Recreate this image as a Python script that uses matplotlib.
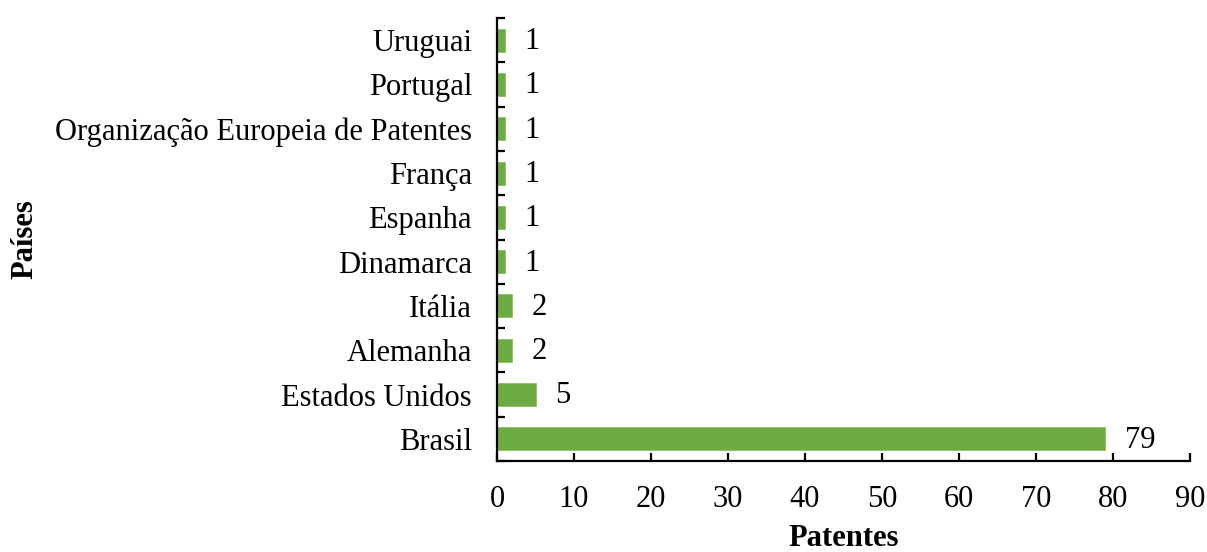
import matplotlib.pyplot as plt
import numpy as np

countries = ["Brasil", "Estados Unidos", "Alemanha", "Itália", "Dinamarca",
             "Espanha", "França", "Organização Europeia de Patentes",
             "Portugal", "Uruguai"]
patents = [79, 5, 2, 2, 1, 1, 1, 1, 1, 1]

plt.rcParams['font.family'] = ['Liberation Serif', 'DejaVu Serif']
FS = 22

fig = plt.figure(figsize=(12.07, 5.52), dpi=100)
ax = fig.add_axes([497/1207, 1-461/552, (1190-497)/1207, (461-18)/552])

y = np.arange(len(countries))
ax.barh(y, patents, height=0.52, color='#6cab42', edgecolor='#8cc063', linewidth=0.6)
for yi, v in zip(y, patents):
    ax.annotate(str(v), xy=(v, yi), xytext=(14, -1), textcoords='offset points',
                va='center', ha='left', fontsize=FS)

ax.set_xlim(0, 90)
ax.set_ylim(-0.5, len(countries) - 0.5)
ax.set_xticks(np.arange(0, 91, 10))
ax.set_yticks(y)
ax.set_yticklabels(countries)
ax.set_yticks(np.arange(-0.5, len(countries), 1), minor=True)

for s in ['top', 'right']:
    ax.spines[s].set_visible(False)
for s in ['left', 'bottom']:
    ax.spines[s].set_linewidth(1.6)

ax.tick_params(axis='x', direction='in', length=6, width=1.6, labelsize=FS, pad=17)
ax.tick_params(axis='y', which='major', length=0, labelsize=FS, pad=18)
ax.tick_params(axis='y', which='minor', direction='in', length=6, width=1.6)

ax.set_xlabel('Patentes', fontsize=FS, fontweight='bold')
ax.xaxis.set_label_coords(0.5, -(538 - 461) / 443)
ax.xaxis.label.set_va('center')
ax.set_ylabel('Países', fontsize=FS, fontweight='bold')
ax.yaxis.set_label_coords(-(497 - 25) / 693, 0.5)
ax.yaxis.label.set_va('center')

fig.savefig('out.png', dpi=100)
